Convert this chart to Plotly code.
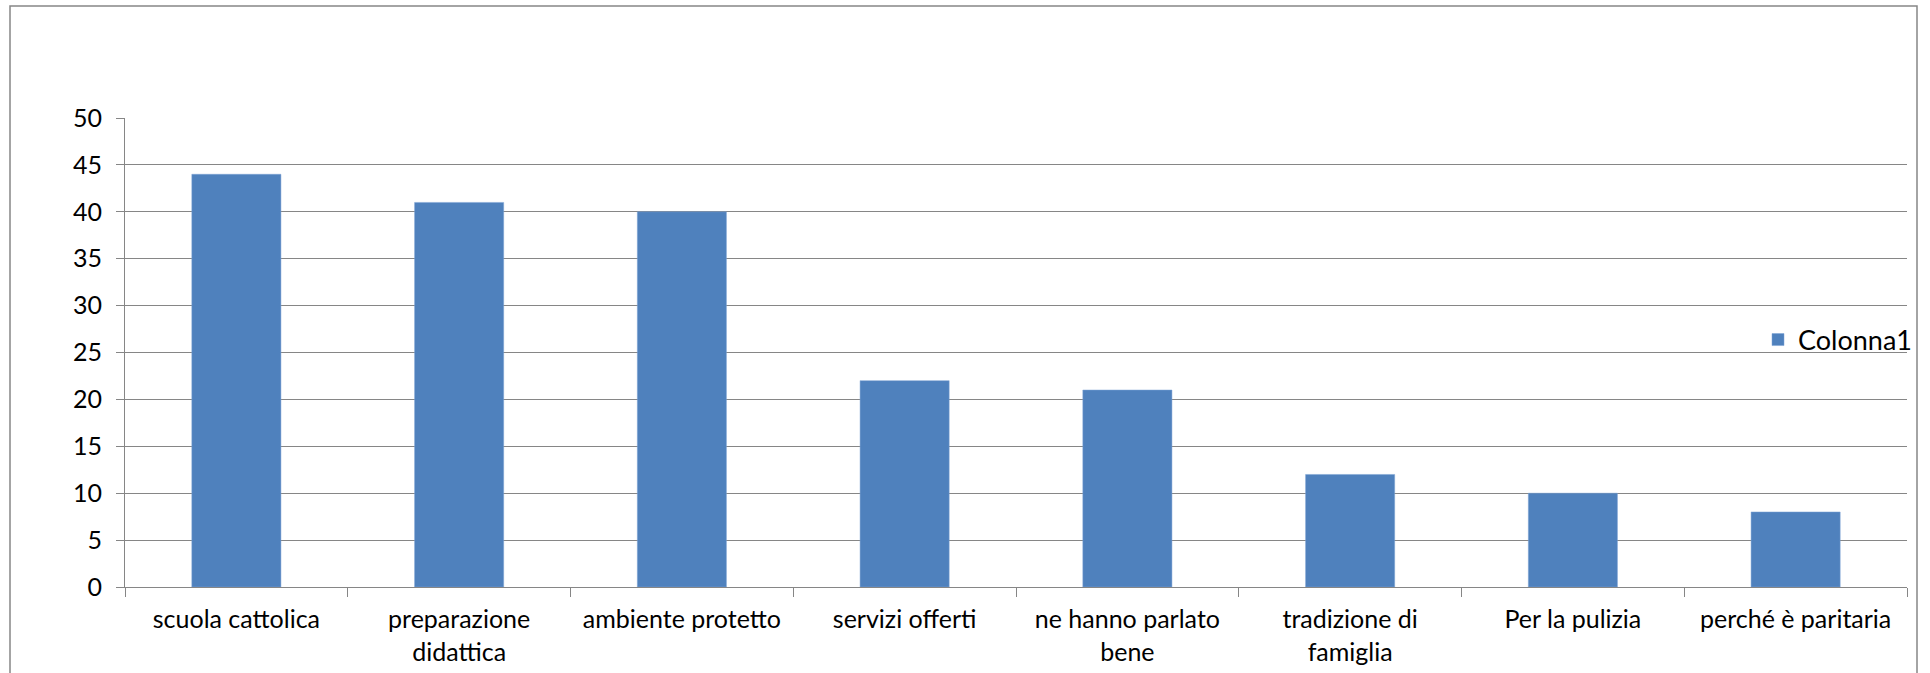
import plotly.graph_objects as go

categories = [
    "scuola cattolica",
    "preparazione<br>didattica",
    "ambiente protetto",
    "servizi offerti",
    "ne hanno parlato<br>bene",
    "tradizione di<br>famiglia",
    "Per la pulizia",
    "perché è paritaria",
]
values = [44, 41, 40, 22, 21, 12, 10, 8]
series_name = "Colonna1"
y_ticks = [0, 5, 10, 15, 20, 25, 30, 35, 40, 45, 50]

W, H = 1930, 673
L, R, T, B = 125, 23, 118, 86
pw, ph = W - L - R, H - T - B

FONT = "Lato, Carlito, Calibri, sans-serif"
GRID = "#868686"

fig = go.Figure()
fig.add_trace(go.Bar(
    x=categories, y=values, name=series_name,
    marker=dict(color="#4F81BD", line=dict(color="#7da3d4", width=0.5)),
    showlegend=True,
))

fig.update_layout(
    width=W, height=H,
    margin=dict(l=L, r=R, t=T, b=B, autoexpand=False),
    paper_bgcolor="white", plot_bgcolor="white",
    bargap=0.6,
    font=dict(family=FONT, size=25, color="black"),
    showlegend=True,
    legend=dict(
        x=1.0 + 10 / pw, xanchor="right", y=(H - B - 340) / ph, yanchor="middle",
        bgcolor="rgba(0,0,0,0)", font=dict(size=27, family=FONT),
        tracegroupgap=0,
    ),
    xaxis=dict(
        type="category", tickson="boundaries", showgrid=False, automargin=False,
        showline=True, linecolor=GRID, linewidth=1,
        ticks="outside", ticklen=9, tickcolor=GRID,
        tickfont=dict(size=25, family=FONT), tickangle=0,
        ticklabelstandoff=10,
    ),
    yaxis=dict(
        range=[0, 50], tickvals=y_ticks, showgrid=True, gridcolor=GRID, gridwidth=1,
        showline=True, linecolor=GRID, linewidth=1, automargin=False,
        ticks="outside", ticklen=8, tickcolor=GRID,
        tickfont=dict(size=25, family=FONT), zeroline=False,
        ticklabelstandoff=9,
    ),
    shapes=[dict(
        type="rect", xref="paper", yref="paper",
        x0=(10 - L) / pw, x1=(1917 - L) / pw,
        y0=-0.5, y1=(H - B - 6) / ph,
        line=dict(color=GRID, width=1.5), fillcolor="rgba(0,0,0,0)", layer="below",
    )],
)

fig.write_html(
    "out.html",
    config={"displayModeBar": False},
    post_script="document.body.style.margin='0';document.body.style.overflow='hidden';",
)
